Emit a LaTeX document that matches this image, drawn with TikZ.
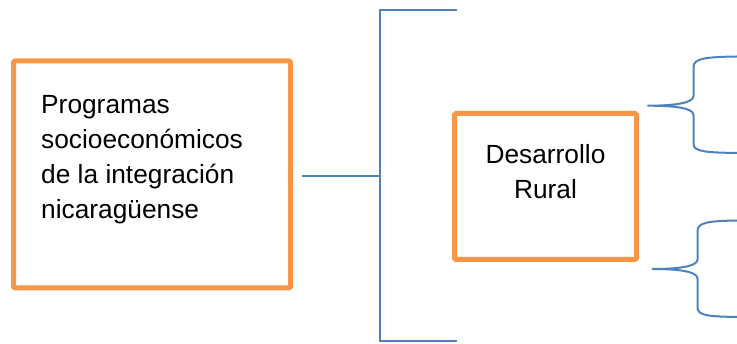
\documentclass[tikz,border=0pt]{standalone}
\usepackage{fontspec}
\setmainfont{Liberation Sans}
\definecolor{boxorange}{HTML}{F79646}
\definecolor{lineblue}{HTML}{4F81BD}
\begin{document}
\begin{tikzpicture}[x=1pt,y=-1pt,
  obox/.style={draw=boxorange, line width=5pt, rounded corners=1.5pt, inner sep=0pt, fill=white},
  btext/.style={inner sep=0pt, font=\fontsize{26.3}{34.8}\selectfont},
  bline/.style={draw=lineblue, line width=2pt},
  bracecurve/.style={draw=lineblue, line width=2pt, line join=round}]
\useasboundingbox (0,0) rectangle (737,344);
% boxes
\node[obox, minimum width=277pt, minimum height=227pt] (prog) at (152,174.5) {};
\node[btext, anchor=north west, align=left] (progtext) at (41,95.5) {Programas\\socioeconómicos\\de la integración\\nicaragüense};
\node[obox, minimum width=182pt, minimum height=146pt] (rural) at (545.5,186.5) {};
\node[btext, anchor=north, align=center] (ruraltext) at (545.5,144.5) {Desarrollo\\Rural};
% main bracket
\coordinate (cs) at (302,176);
\coordinate (bm) at (380,176);
\coordinate (bt) at (380,10);
\coordinate (bb) at (380,341);
\coordinate (bte) at (457,10);
\coordinate (bbe) at (457,341);
\draw[bline] (cs) -- (bm);
\draw[bline] (bte) -- (bt) -- (bb) -- (bbe);
% upper brace
\coordinate (ua) at (737,56.5);
\coordinate (utip) at (648,105.7);
\coordinate (ub) at (737,153);
\draw[bracecurve] (ua) .. controls (705,57) and (693.5,58.5) .. (693.5,67)
  -- (693.5,96) .. controls (693.5,103.5) and (672,105.7) .. (utip)
  .. controls (672,105.7) and (693.5,107.5) .. (693.5,115)
  -- (693.5,144) .. controls (693.5,151.5) and (705,152.5) .. (ub);
% lower brace
\coordinate (la) at (737,220.5);
\coordinate (ltip) at (652.5,269);
\coordinate (lb) at (737,317);
\draw[bracecurve] (la) .. controls (708,221) and (697.5,222.5) .. (697.5,231)
  -- (697.5,259.5) .. controls (697.5,267) and (676,269) .. (ltip)
  .. controls (676,269) and (697.5,271) .. (697.5,278.5)
  -- (697.5,307.5) .. controls (697.5,315.5) and (708,316.5) .. (lb);
\end{tikzpicture}
\end{document}
